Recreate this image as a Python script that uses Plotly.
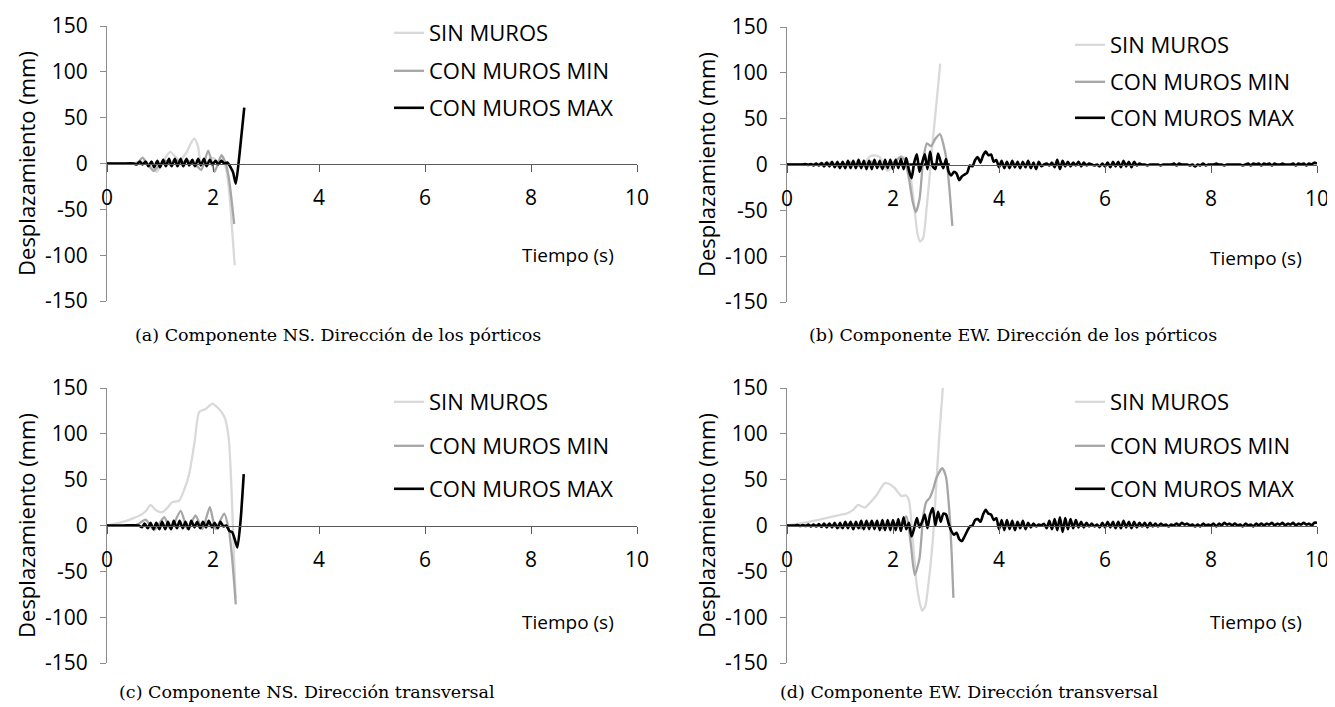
import plotly.graph_objects as go

# ---------------- data ----------------
SERIES = ["SIN MUROS", "CON MUROS MIN", "CON MUROS MAX"]
CAPTIONS = ["(a) Componente NS. Dirección de los pórticos",
            "(b) Componente EW. Dirección de los pórticos",
            "(c) Componente NS. Dirección transversal",
            "(d) Componente EW. Dirección transversal"]
X_TICKS = [0, 2, 4, 6, 8, 10]
Y_TICKS = [-150, -100, -50, 0, 50, 100, 150]
Y_TICK_TEXT = ["-150", "-100", "-50", "0", "50", "100", "150"]

# (a) NS - porticos
A_SIN_T = [0, 0.5, 0.6, 0.7, 0.8, 0.94, 1.05, 1.19, 1.28, 1.37, 1.5, 1.58, 1.65, 1.72, 1.78, 1.9, 2.0, 2.1, 2.19, 2.26, 2.32, 2.37, 2.41]
A_SIN_V = [0, 0, 1, 2, -3, -9, 2, 12.7, 8, 3.6, 12, 22, 27, 18, -3, 2, 6, 2, 5, -10, -40, -80, -111]
A_MIN_T = [0, 0.5, 0.6, 0.67, 0.76, 0.88, 1.0, 1.1, 1.2, 1.3, 1.4, 1.5, 1.6, 1.7, 1.78, 1.91, 2.03, 2.16, 2.25, 2.31, 2.36, 2.40]
A_MIN_V = [0, 0, 2, 6.5, 0, -8, -1, 3, -2, 4, -1, 4, 0, -3, -7, 14, -9, 9, -2, -20, -45, -66]
A_MAX_T = [0, 0.3, 0.5, 0.56, 0.62, 0.67, 0.73, 0.78, 0.84, 0.89, 0.95, 1.00, 1.06, 1.11, 1.17, 1.22, 1.28, 1.33, 1.39, 1.44,
           1.50, 1.55, 1.61, 1.66, 1.72, 1.77, 1.83, 1.88, 1.94, 1.99, 2.05, 2.10, 2.16, 2.21, 2.27, 2.33, 2.38, 2.43, 2.50, 2.59]
A_MAX_V = [0, 0, 0, -1, 2, -1, 2, -3, 2, -4, 3, -4, 4, -3, 5, -3, 5, -3, 5, -3,
           5, -2, 4, -3, 5, -2, 5, -3, 4, -1, 3, -1, 3, 0, 1, -4, -10, -22, 10, 61]

# (b) EW - porticos
B_SIN_T = [0, 0.5, 0.8, 1.0, 1.2, 1.4, 1.57, 1.66, 1.75, 1.89, 2.02, 2.14, 2.25, 2.33, 2.41, 2.46, 2.51, 2.57, 2.63, 2.68, 2.74, 2.80, 2.85, 2.89]
B_SIN_V = [0, 0, 2, -2, 3, -2, 9, 10, 8, -7, 0, 9, 6, -12, -50, -75, -84, -80, -50, -20, 20, 55, 85, 110]
B_MIN_T = [0, 0.5, 0.8, 1.0, 1.2, 1.4, 1.6, 1.8, 2.0, 2.14, 2.22, 2.30, 2.37, 2.43, 2.50, 2.57, 2.64, 2.72, 2.80, 2.89, 2.95, 3.01, 3.07, 3.12]
B_MIN_V = [0, 0, 1, -2, 2, -2, 3, -3, 2, 8, 5, -15, -40, -52, -38, 5, 23, 20, 28, 33, 22, 5, -30, -67]
B_BASE_T = [0, 3.07]
B_BASE_V = [0, 0]
B_MAX_T0, B_MAX_DT = 0.0, 0.05
B_MAX_V = [0, 0, 0, 0, 0, 0, 0, 0.5, -0.5, 0.5,
           -1, 1, -1, 1.5, -2, 2, -2, 3, -3, 3,
           -4, 3, -4, 4, -4, 4, -4, 5, -4, 4,
           -5, 4, -5, 5, -4, 4, -5, 5, -4, 5,
           -5, 5, -4, 6, -5, 7, -6, -15, 2, 11,
           -8, 2, 11, -5, 14, -2, -5, 12, 3, -4,
           6, -8, -12, -8, -10, -17, -13, -11, -9, -1,
           -2, 5, 8, 2, 10, 14, 10, 11, 3, 5,
           -3, 4, -4, 3, -4, 4, -3, 3, -4, 3,
           -3, 4, -4, 2, -5, 3, -2, 0, 1, -1,
           2, -3, 5, -5, 4, -2, 3, -2, 2, -1,
           3, -2, 2, -1, 1, 0, -1, 0, -2, 1,
           -2, 2, -3, 3, -2, 3, -3, 4, -2, 3,
           -3, 3, -1, 1, 0, 0, -1, 0, 0, 0,
           0, -1, 0, 0, 0, 0, 1, -1, 1, 0,
           0, 0, -1, 0, -2, 0, -1, 1, -1, 0,
           0, 0, 1, 0, 0, -1, 0, 0, 0, 0,
           0, 0, -1, 0, 1, -1, 1, 0, 1, -1,
           1, 0, 1, -1, 1, 0, 0, 1, 0, 0,
           0, 1, -1, 1, 0, 1, -1, 1, 0, 2,
           1]

# (c) NS - transversal
C_SIN_T = [0, 0.3, 0.5, 0.67, 0.75, 0.82, 0.92, 1.04, 1.15, 1.23, 1.36, 1.45, 1.55, 1.65, 1.74, 1.86, 1.99, 2.08, 2.16, 2.23, 2.30, 2.35, 2.40, 2.43]
C_SIN_V = [0, 4, 8, 12.7, 17, 22.5, 17, 14.5, 20, 25.5, 27, 38, 56, 90, 124, 127, 133, 129, 124, 116, 93, 38, -40, -80]
C_MIN_T = [0, 0.5, 0.6, 0.73, 0.89, 1.08, 1.2, 1.39, 1.52, 1.67, 1.8, 1.94, 2.05, 2.21, 2.30, 2.36, 2.43]
C_MIN_V = [0, 0, 2, 6.5, -5, 9, -4, 16, -4, 11, -4, 20, -4, 13, -5, -35, -86]
C_MAX_T = [0, 0.3, 0.6, 0.66, 0.71, 0.77, 0.82, 0.88, 0.93, 0.99, 1.04, 1.10, 1.15, 1.21, 1.26, 1.32, 1.37, 1.43, 1.48,
           1.54, 1.59, 1.65, 1.70, 1.76, 1.81, 1.87, 1.92, 1.98, 2.03, 2.09, 2.14, 2.20, 2.25, 2.31, 2.36, 2.41, 2.46, 2.52, 2.58]
C_MAX_V = [0, 0, 0, -2, 2, -3, 3, -4, 3, -4, 4, -4, 4, -4, 5, -3, 5, -3, 4,
           -4, 5, -2, 4, -3, 4, -2, 5, -2, 3, -3, 4, -1, 0, -6, -7, -15, -24, 5, 56]

# (d) EW - transversal
D_SIN_T = [0, 0.5, 1.0, 1.12, 1.25, 1.34, 1.47, 1.6, 1.69, 1.84, 1.94, 2.03, 2.16, 2.24, 2.30, 2.36, 2.44, 2.50, 2.55, 2.61, 2.66, 2.75, 2.82, 2.88, 2.94]
D_SIN_V = [0, 5, 11.6, 13, 17, 22.5, 19.6, 27, 33, 46, 45, 41, 32, 33, 28, -6.5, -61, -83, -93, -88, -68, -17, 48, 103, 150]
D_MIN_T = [0, 0.5, 0.8, 1.0, 1.2, 1.4, 1.6, 1.8, 2.0, 2.12, 2.25, 2.33, 2.41, 2.50, 2.57, 2.63, 2.69, 2.76, 2.82, 2.93, 3.00, 3.07, 3.11, 3.14]
D_MIN_V = [0, 0, 1, -2, 2, -3, 3, -3, 3, 0, 10, -17, -54, -36, 10, 26, 30, 40, 52, 62.5, 53, 10, -35, -79]
D_MAX_T0, D_MAX_DT = 0.0, 0.05
D_MAX_V = [0, 0, 0, 0, 0.5, -0.5, 0.5, -0.5, 1, -1,
           1, -1, 1.5, -1.5, 2, -2, 2, -2, 3, -3,
           3, -3, 4, -3, 4, -4, 4, -3, 5, -4,
           5, -4, 5, -4, 5, -5, 6, -5, 6, -5,
           6, -5, 7, -6, 9, -4, 3, -12, -3, 8,
           -2, 4, 12, -3, 12, 19, 0, 15, 4, 13,
           12, 2, -6, -10, -8, -15, -17, -12, -6, -1,
           0, 6, 7, 4, 12, 17, 13, 12, 6, 8,
           -4, 6, -5, 6, -4, 5, -5, 4, -3, 5,
           -4, 3, -2, 2, -1, 1, 0, 2, -3, 5,
           -4, 7, -5, 9, -7, 8, -4, 7, -3, 6,
           -2, 4, -2, 3, -1, 2, -1, 1, -2, 3,
           -2, 4, -2, 4, -3, 4, -3, 5, -2, 4,
           -3, 4, -2, 3, -1, 3, -2, 3, -1, 2,
           -1, 2, 0, 1, -1, 1, 0, 2, 0, 3,
           1, 2, 0, 1, -1, 1, -1, 2, 0, 1,
           0, 2, -1, 2, 0, 3, 1, 2, 0, 2,
           0, 1, -1, 2, 0, 1, -1, 2, 0, 2,
           0, 2, 1, 3, 0, 2, 1, 3, 0, 2,
           1, 3, 0, 2, 1, 3, 1, 2, 0, 3,
           3]

# ---------------- styling ----------------
VIEW_W, VIEW_H = 1335, 707
OFF = 8                      # default page margin around the plot div
W, H = VIEW_W - OFF, VIEW_H - OFF
COLORS = {"SIN MUROS": "#d9d9d9", "CON MUROS MIN": "#a6a6a6", "CON MUROS MAX": "#000000"}
WIDTHS = {"SIN MUROS": 2.3, "CON MUROS MIN": 2.3, "CON MUROS MAX": 2.6}
SANS = "Open Sans, Liberation Sans, sans-serif"
SERIF = "DejaVu Serif, Liberation Serif, serif"


def fx(p):
    return (p - OFF) / W


def fy(p):
    return 1 - (p - OFF) / H


# panel boxes in screen pixels: (x_left, x_right, y_top, y_bottom)
PANELS = [
    dict(box=(107, 637, 26, 301), leg_y=(33, 71, 108), leg_x=429, tiempo=(568, 255), cap=(338, 335)),
    dict(box=(787, 1317, 27, 302), leg_y=(45, 82, 118), leg_x=1110, tiempo=(1256, 258), cap=(1013, 335)),
    dict(box=(107, 637, 388, 663), leg_y=(402, 446, 489), leg_x=429, tiempo=(568, 622), cap=(307, 692)),
    dict(box=(787, 1317, 388, 663), leg_y=(402, 446, 489), leg_x=1110, tiempo=(1256, 622), cap=(969, 692)),
]

DATA = [
    [(A_SIN_T, A_SIN_V), (A_MIN_T, A_MIN_V), (A_MAX_T, A_MAX_V)],
    [(B_SIN_T, B_SIN_V), (B_MIN_T, B_MIN_V), (B_MAX_T0, B_MAX_DT, B_MAX_V)],
    [(C_SIN_T, C_SIN_V), (C_MIN_T, C_MIN_V), (C_MAX_T, C_MAX_V)],
    [(D_SIN_T, D_SIN_V), (D_MIN_T, D_MIN_V), (D_MAX_T0, D_MAX_DT, D_MAX_V)],
]

fig = go.Figure()
layout = dict(
    width=W, height=H, paper_bgcolor="white", plot_bgcolor="white",
    margin=dict(l=0, r=0, t=0, b=0), showlegend=True,
    font=dict(family=SANS, size=20, color="#000000"),
)
annotations = []
legend_idx = 0

for p, (panel, series_data) in enumerate(zip(PANELS, DATA)):
    n = "" if p == 0 else str(p + 1)
    xl, xr, yt, yb = panel["box"]
    ydom = [fy(yb), fy(yt)]
    layout["xaxis" + n] = dict(
        domain=[fx(xl), fx(xr)], range=[0, 10], tickvals=X_TICKS,
        anchor="free", position=(ydom[0] + ydom[1]) / 2,
        showline=True, linecolor="#595959", linewidth=1,
        ticks="outside", ticklen=7, tickcolor="#595959", tickwidth=1,
        ticklabelstandoff=8, showgrid=False, zeroline=False,
        tickfont=dict(family=SANS, size=21, color="#000000"),
        automargin=False, fixedrange=True,
    )
    layout["yaxis" + n] = dict(
        domain=ydom, range=[-150, 150], tickvals=Y_TICKS, ticktext=Y_TICK_TEXT,
        anchor="x" + n, showline=True, linecolor="#8c8c8c", linewidth=1,
        ticks="outside", ticklen=6, tickcolor="#8c8c8c", tickwidth=1,
        ticklabelstandoff=8, showgrid=False, zeroline=False,
        tickfont=dict(family=SANS, size=21, color="#000000"),
        title=dict(text="Desplazamiento (mm)", font=dict(family=SANS, size=22, color="#000000"), standoff=3),
        automargin=False, fixedrange=True,
    )

    if p == 1:
        fig.add_trace(go.Scatter(
            x=B_BASE_T, y=B_BASE_V, xaxis="x" + n, yaxis="y" + n, mode="lines",
            line=dict(color="#000000", width=2.4), showlegend=False, hoverinfo="skip"))

    for s, (name, d) in enumerate(zip(SERIES, series_data)):
        legend_idx += 1
        lname = "legend" if legend_idx == 1 else "legend" + str(legend_idx)
        common = dict(xaxis="x" + n, yaxis="y" + n, mode="lines", name=name,
                      line=dict(color=COLORS[name], width=WIDTHS[name], shape="spline", smoothing=0.6),
                      legend=lname)
        if len(d) == 3:
            fig.add_trace(go.Scatter(x0=d[0], dx=d[1], y=d[2], **common))
        else:
            fig.add_trace(go.Scatter(x=d[0], y=d[1], **common))
        layout[lname] = dict(
            x=fx(panel["leg_x"] - 40), y=fy(panel["leg_y"][s]),
            xanchor="left", yanchor="middle", bgcolor="rgba(0,0,0,0)",
            borderwidth=0, font=dict(family=SANS, size=22, color="#000000"),
            itemwidth=30, itemclick=False, itemdoubleclick=False,
        )

    annotations.append(dict(
        text="Tiempo (s)", xref="paper", yref="paper",
        x=fx(panel["tiempo"][0]), y=fy(panel["tiempo"][1]),
        xanchor="center", yanchor="middle", showarrow=False,
        font=dict(family=SANS, size=19, color="#000000")))
    annotations.append(dict(
        text=CAPTIONS[p], xref="paper", yref="paper",
        x=fx(panel["cap"][0]), y=fy(panel["cap"][1]),
        xanchor="center", yanchor="middle", showarrow=False,
        font=dict(family=SERIF, size=17.5, color="#000000")))

layout["annotations"] = annotations
fig.update_layout(**layout)
fig.write_html("out.html")
